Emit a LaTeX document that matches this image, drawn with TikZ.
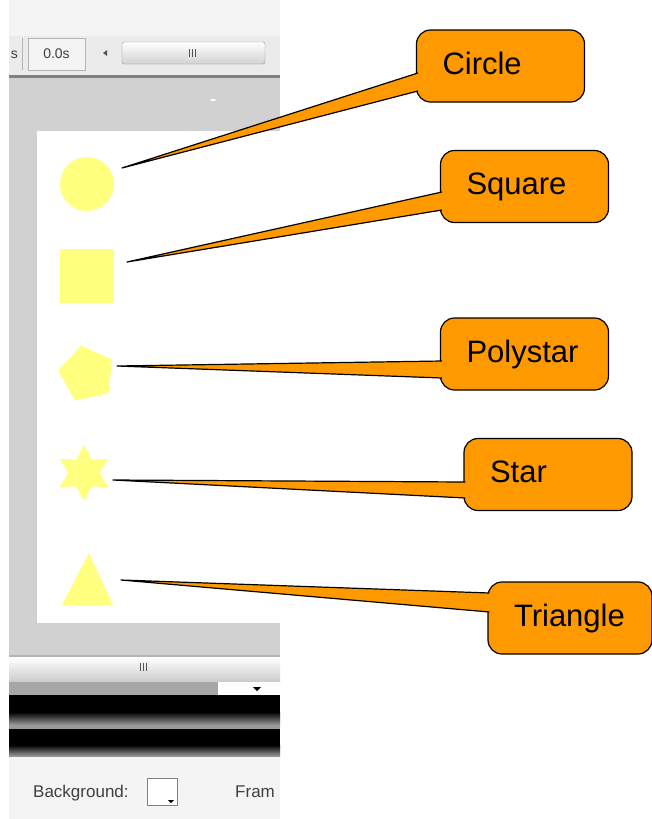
\documentclass[tikz,border=0pt]{standalone}
\usepackage{fontspec}
\setmainfont{Liberation Sans}
\usetikzlibrary{shapes.geometric,calc}
\definecolor{calloutorange}{HTML}{FF9900}
\definecolor{shapeyellow}{HTML}{FFFF80}
\definecolor{stagegray}{HTML}{D1D1D1}
\definecolor{uilight}{HTML}{F4F4F4}
\definecolor{uibar}{HTML}{EBEBEB}
\definecolor{uiline}{HTML}{B4B4B4}
\definecolor{uidark}{HTML}{555555}
\definecolor{uitext}{HTML}{404040}

\begin{document}
\begin{tikzpicture}
    [x=1pt,y=-1pt,
     labelbox/.style={draw, fill=calloutorange, line width=1.2pt, rounded corners=14pt,
       minimum height=72pt, text width=116pt, inner xsep=26pt, align=left,
       text height=22pt, text depth=6pt, font=\fontsize{31}{36}\selectfont},
     pointer/.style={fill=calloutorange, draw=black, line width=1.2pt, line join=round},
     fillshape/.style={fill=shapeyellow, draw=none, inner sep=0pt},
     uifont/.style={font=\fontsize{17}{20}\selectfont, text=uitext, inner sep=0pt}]
    \useasboundingbox (0,0) rectangle (652,819);
    \fill[white] (0,0) rectangle (652,819);

    %% screenshot panel, top toolbar
    \fill[uilight] (9,0) rectangle (280,38);
    \fill[uibar] (9,36) rectangle (280,75);
    \draw[uiline] (22,38) -- (22,70);
    \node[uifont, font=\fontsize{14}{16}\selectfont, anchor=east] (fpstext) at (18,55) {s};
    \node[draw=uiline, fill=uilight, minimum width=57pt, minimum height=32pt] (timebox) at (56.5,54) {};
    \node[uifont, font=\fontsize{14}{16}\selectfont] (timetext) at (timebox) {0.0s};
    \fill[uidark] (103,53) -- (107,50) -- (107,56) -- cycle;
    \shade[top color=white, bottom color=uiline!60, draw=uiline!80!black, rounded corners=2pt]
      (122,42) rectangle (265,64);
    \foreach \gx in {189,192,195}
      \draw[uidark, line width=0.8pt] (\gx,49) -- (\gx,57);
    \fill[gray] (9,75) rectangle (280,78);

    %% stage
    \fill[stagegray] (9,78) rectangle (280,655);
    \fill[white] (213,100) ellipse (3 and 1);
    \fill[white] (37,131) rectangle (280,623);

    %% bottom of the panel
    \fill[uiline] (9,655) rectangle (280,657);
    \shade[top color=white, bottom color=uiline!70] (9,657) rectangle (280,682);
    \foreach \gx in {140,143,146}
      \draw[uidark, line width=0.8pt] (\gx,663) -- (\gx,671);
    \fill[gray!70] (9,682) rectangle (218,695);
    \fill[white] (218,682) rectangle (280,695);
    \fill[black] (253,687) -- (261,687) -- (257,691) -- cycle;
    \fill[black] (9,695) rectangle (280,712);
    \shade[top color=black, bottom color=gray!70] (9,712) rectangle (280,726);
    \fill[gray!80] (9,726) rectangle (280,729);
    \fill[black] (9,729) rectangle (280,745);
    \shade[top color=black, bottom color=gray!70] (9,745) rectangle (280,757);
    \fill[uilight] (9,757) rectangle (280,819);
    \node[uifont, anchor=base west] (bgtext) at (33,797) {Background:};
    \node[draw=gray, fill=white, minimum width=30pt, minimum height=27pt, inner sep=0pt] (swatch) at (162,791.5) {};
    \fill[black] (168,800) -- (174,800) -- (171,803) -- cycle;
    \node[uifont, anchor=base west] (frametext) at (235,797) {Fram};

    %% shapes on the stage
    \node[fillshape, circle, minimum size=54pt] (shpcircle) at (87,184) {};
    \node[fillshape, rectangle, minimum size=54pt] (shpsquare) at (87,275.5) {};
    \node[fillshape, regular polygon, regular polygon sides=5, minimum size=58pt,
      shape border rotate=12] (shppolystar) at (87,374) {};
    \node[fillshape, star, star points=6, star point ratio=1.8, minimum size=56pt] (shpstar) at (84,473) {};
    \fill[shapeyellow] (62,605) -- (89,553) -- (113,605) -- cycle;

    %% callouts
    \node[labelbox] (lblcircle) at (500.5,66) {Circle};
    \node[labelbox] (lblsquare) at (524.5,186.5) {Square};
    \node[labelbox] (lblpolystar) at (524.5,354) {Polystar};
    \node[labelbox] (lblstar) at (548,474.5) {Star};
    \node[labelbox, text width=112pt] (lbltriangle) at (570,618) {Triangle};

    \coordinate (tipcircle) at (122,168);
    \coordinate (tipsquare) at (127,262);
    \coordinate (tippolystar) at (117,366);
    \coordinate (tipstar) at (113,480);
    \coordinate (tiptriangle) at (121,580);

    \foreach \n/\a/\b in {circle/7/25, square/5.5/23.5, polystar/7/24, star/7.5/23.5, triangle/-25/-6}
      \filldraw[pointer] ($(lbl\n.west)+(2,\a)$) -- (tip\n) -- ($(lbl\n.west)+(2,\b)$);
  \end{tikzpicture}
\end{document}
